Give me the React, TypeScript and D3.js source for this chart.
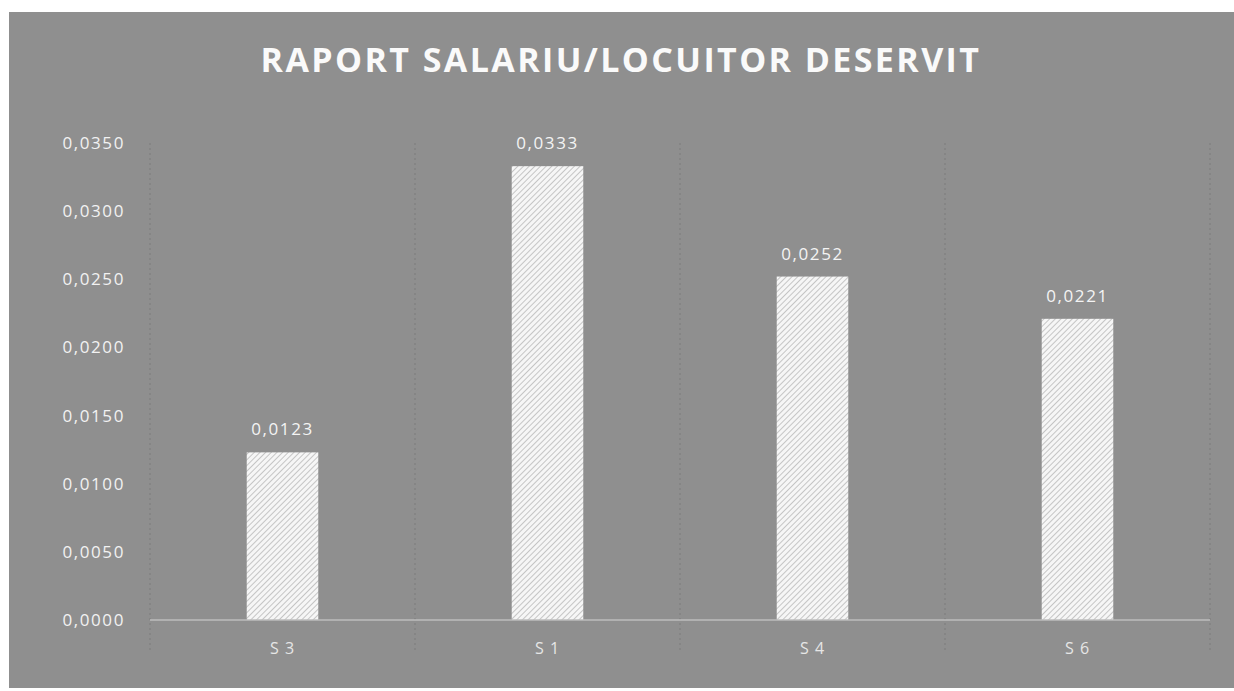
import * as d3 from 'd3';
import { useRef, useEffect } from 'react';

const categories = ['S 3', 'S 1', 'S 4', 'S 6'];
const values = [0.0123, 0.0333, 0.0252, 0.0221];
const yTicks = [0, 0.005, 0.01, 0.015, 0.02, 0.025, 0.03, 0.035];
const title = 'RAPORT SALARIU/LOCUITOR DESERVIT';

const fmt = (v: number) => v.toFixed(4).replace('.', ',');

const App = () => {
    const svgRef = useRef<SVGSVGElement | null>(null);

    useEffect(() => {
        const W = 1234, H = 691;
        const margin = { top: 143, right: 24, bottom: 71, left: 150 };
        const width = W - margin.left - margin.right;
        const height = H - margin.top - margin.bottom;

        d3.select(svgRef.current).selectAll('*').remove();

        const root = d3.select(svgRef.current)
            .attr('width', W)
            .attr('height', H);

        // hatch pattern for the bars
        const defs = root.append('defs');
        const pat = defs.append('pattern')
            .attr('id', 'hatch')
            .attr('patternUnits', 'userSpaceOnUse')
            .attr('width', 4)
            .attr('height', 4)
            .attr('patternTransform', 'rotate(45)');
        pat.append('rect').attr('width', 4).attr('height', 4).attr('fill', '#f6f6f6');
        pat.append('line')
            .attr('x1', 0).attr('y1', 0).attr('x2', 0).attr('y2', 4)
            .attr('stroke', '#a4a4a4')
            .attr('stroke-width', 1.2);

        // chart background
        root.append('rect')
            .attr('x', 9).attr('y', 12)
            .attr('width', W - 9).attr('height', 676)
            .attr('fill', '#8f8f8f');

        root.append('text')
            .attr('x', 621)
            .attr('y', 72)
            .attr('text-anchor', 'middle')
            .attr('font-family', 'Open Sans, sans-serif')
            .attr('font-weight', 700)
            .attr('font-size', 34)
            .attr('letter-spacing', 2.4)
            .attr('fill', '#fafafa')
            .text(title);

        const svg = root.append('g')
            .attr('transform', `translate(${margin.left},${margin.top})`);

        const x = d3.scaleBand()
            .domain(categories)
            .range([0, width])
            .paddingInner(0.73)
            .paddingOuter(0.365);

        const y = d3.scaleLinear()
            .domain([0, 0.035])
            .range([height, 0]);

        // vertical dotted separators between categories
        const step = x.step();
        const seps = d3.range(categories.length + 1).map(i => i * step);
        svg.selectAll('line.sep')
            .data(seps)
            .enter()
            .append('line')
            .attr('class', 'sep')
            .attr('x1', d => d).attr('x2', d => d)
            .attr('y1', 0).attr('y2', height + 30)
            .attr('stroke', '#828282')
            .attr('stroke-width', 1.5)
            .attr('stroke-dasharray', '2,3');

        // y tick labels
        svg.selectAll('text.ytick')
            .data(yTicks)
            .enter()
            .append('text')
            .attr('class', 'ytick')
            .attr('x', -25)
            .attr('y', d => y(d))
            .attr('dy', '0.35em')
            .attr('text-anchor', 'end')
            .attr('font-family', 'Open Sans, sans-serif')
            .attr('font-size', 17)
            .attr('letter-spacing', 1.6)
            .attr('fill', '#f2f2f2')
            .text(d => fmt(d));

        svg.selectAll('rect.bar')
            .data(values)
            .enter()
            .append('rect')
            .attr('class', 'bar')
            .attr('x', (_, i) => x(categories[i])!)
            .attr('y', d => y(d))
            .attr('width', x.bandwidth())
            .attr('height', d => height - y(d))
            .attr('fill', 'url(#hatch)');

        // baseline
        svg.append('line')
            .attr('x1', 0).attr('x2', width)
            .attr('y1', height).attr('y2', height)
            .attr('stroke', '#bcbcbc')
            .attr('stroke-width', 1.5);

        svg.selectAll('text.vote-label')
            .data(values)
            .enter()
            .append('text')
            .attr('class', 'vote-label')
            .attr('x', (_, i) => x(categories[i])! + x.bandwidth() / 2)
            .attr('y', d => y(d) - 23)
            .attr('dy', '0.35em')
            .attr('text-anchor', 'middle')
            .attr('font-family', 'Open Sans, sans-serif')
            .attr('font-size', 17)
            .attr('letter-spacing', 1.6)
            .attr('fill', '#f4f4f4')
            .text(d => fmt(d));

        svg.selectAll('text.cat')
            .data(categories)
            .enter()
            .append('text')
            .attr('class', 'cat')
            .attr('x', d => x(d)! + x.bandwidth() / 2)
            .attr('y', height + 28)
            .attr('dy', '0.35em')
            .attr('text-anchor', 'middle')
            .attr('font-family', 'Open Sans, sans-serif')
            .attr('font-size', 16)
            .attr('letter-spacing', 1)
            .attr('fill', '#e6e6e6')
            .text(d => d);
    }, []);

    return (
        <svg ref={svgRef} style={{ position: 'absolute', left: 0, top: 0, background: '#fff' }}></svg>
    );
};

export default App;
